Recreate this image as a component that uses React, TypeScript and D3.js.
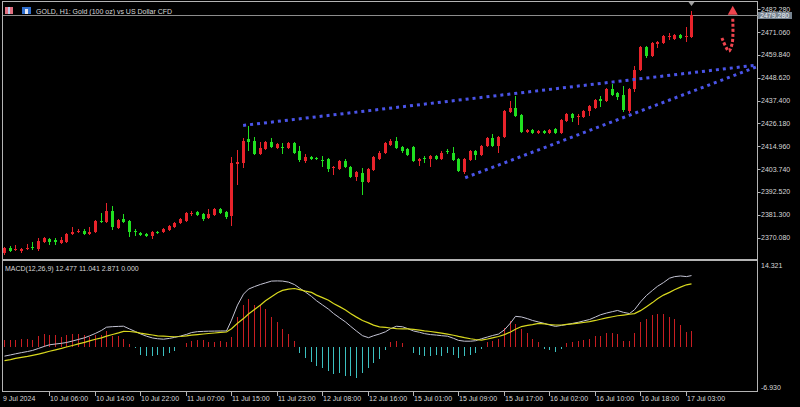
import * as d3 from "d3";

// H1 candles, 9 Jul 21:00 .. 17 Jul 04:00
const opens = [
  2362.4, 2365.1, 2364.0, 2363.5, 2364.7, 2365.3, 2364.5, 2367.9, 2369.5, 2368.9,
  2367.6, 2368.1, 2371.9, 2372.7, 2373.5, 2371.9, 2372.7, 2378.3, 2377.7, 2383.3,
  2375.0, 2379.1, 2378.3, 2373.2, 2372.5, 2372.0, 2370.9, 2373.0, 2372.8, 2373.9,
  2375.3, 2377.3, 2378.3, 2382.0, 2382.8, 2381.5, 2379.8, 2381.3, 2384.3, 2382.8,
  2380.8, 2406.3, 2406.5, 2418.3, 2417.8, 2411.4, 2413.4, 2416.9, 2413.9, 2414.6,
  2413.9, 2416.4, 2412.4, 2407.5, 2409.9, 2409.0, 2408.2, 2408.5, 2404.3, 2404.0,
  2407.5, 2405.0, 2400.1, 2402.0, 2397.6, 2403.5, 2408.9, 2411.9, 2415.4, 2417.8,
  2414.4, 2413.4, 2414.4, 2407.5, 2409.0, 2408.5, 2410.4, 2408.9, 2412.5, 2411.9,
  2408.5, 2402.5, 2408.0, 2412.4, 2410.9, 2414.9, 2418.8, 2414.9, 2419.3, 2431.7,
  2433.6, 2430.2, 2421.8, 2422.8, 2421.3, 2422.3, 2421.3, 2423.3, 2421.3, 2427.2,
  2430.7, 2429.5, 2429.2, 2432.2, 2433.6, 2438.1, 2437.1, 2443.0, 2441.0, 2440.1,
  2432.2, 2443.0, 2452.4, 2463.8, 2459.3, 2465.3, 2465.8, 2469.0, 2467.7, 2469.7,
  2469.0, 2468.7,
];
const highs = [
  2365.5, 2365.8, 2366.3, 2365.2, 2367.0, 2368.0, 2369.7, 2370.2, 2370.0, 2369.8,
  2370.5, 2372.4, 2375.5, 2374.5, 2374.5, 2375.5, 2378.9, 2382.4, 2387.0, 2385.4,
  2379.3, 2381.8, 2378.8, 2374.5, 2373.0, 2372.5, 2373.3, 2373.5, 2374.7, 2376.3,
  2377.8, 2379.8, 2382.8, 2383.3, 2383.3, 2382.3, 2384.3, 2384.8, 2384.8, 2383.3,
  2409.9, 2412.9, 2418.8, 2424.8, 2419.5, 2416.9, 2417.4, 2418.8, 2416.4, 2416.4,
  2416.9, 2416.9, 2414.9, 2411.4, 2410.4, 2409.5, 2410.4, 2409.0, 2405.5, 2408.0,
  2408.5, 2405.5, 2403.0, 2404.5, 2404.5, 2410.4, 2412.4, 2416.9, 2418.3, 2419.3,
  2414.9, 2413.9, 2414.9, 2409.4, 2410.0, 2410.9, 2410.9, 2412.4, 2413.4, 2414.4,
  2409.0, 2409.0, 2412.9, 2412.9, 2415.4, 2419.3, 2420.8, 2419.8, 2432.7, 2437.1,
  2439.6, 2430.7, 2423.3, 2423.3, 2422.8, 2422.8, 2423.3, 2423.8, 2428.2, 2431.2,
  2431.2, 2430.7, 2432.7, 2435.1, 2438.1, 2439.6, 2443.5, 2445.5, 2441.5, 2444.5,
  2443.5, 2454.4, 2464.3, 2464.3, 2466.3, 2466.8, 2469.7, 2470.7, 2470.2, 2470.2,
  2473.7, 2481.6,
];
const lows = [
  2361.5, 2362.8, 2363.4, 2362.4, 2364.2, 2364.2, 2363.5, 2367.4, 2366.3, 2366.3,
  2367.0, 2367.6, 2371.4, 2372.2, 2371.4, 2371.4, 2372.2, 2377.2, 2377.2, 2373.9,
  2374.5, 2377.2, 2370.2, 2371.0, 2371.0, 2370.5, 2369.3, 2371.9, 2372.3, 2373.4,
  2374.8, 2376.8, 2377.8, 2380.8, 2380.8, 2378.3, 2379.3, 2380.8, 2381.8, 2379.3,
  2375.8, 2396.1, 2404.5, 2412.4, 2410.9, 2410.9, 2412.9, 2413.9, 2413.4, 2411.4,
  2413.4, 2411.4, 2407.0, 2406.5, 2408.0, 2408.3, 2405.0, 2402.2, 2401.0, 2403.5,
  2404.5, 2399.6, 2398.1, 2391.2, 2397.1, 2403.0, 2408.4, 2411.4, 2414.9, 2413.4,
  2411.9, 2410.4, 2407.0, 2405.5, 2406.5, 2405.0, 2408.4, 2408.4, 2411.4, 2407.5,
  2402.5, 2401.5, 2407.5, 2408.0, 2410.4, 2414.4, 2414.4, 2411.9, 2418.8, 2431.2,
  2429.2, 2421.3, 2421.3, 2420.8, 2420.8, 2420.8, 2420.8, 2420.8, 2420.8, 2426.7,
  2426.7, 2425.2, 2428.7, 2429.7, 2433.1, 2434.1, 2436.6, 2439.6, 2437.6, 2431.7,
  2431.2, 2441.5, 2451.9, 2458.3, 2458.8, 2463.3, 2465.3, 2467.2, 2467.2, 2467.7,
  2466.3, 2468.2,
];
const closes = [
  2364.8, 2363.5, 2364.5, 2364.6, 2365.2, 2364.8, 2368.6, 2369.7, 2367.8, 2367.8,
  2368.9, 2371.9, 2373.0, 2373.5, 2371.9, 2373.0, 2378.4, 2377.7, 2383.3, 2375.2,
  2378.8, 2377.7, 2373.0, 2372.9, 2371.5, 2371.0, 2372.8, 2372.4, 2374.2, 2375.8,
  2377.3, 2379.3, 2382.3, 2382.4, 2381.3, 2379.3, 2381.8, 2384.3, 2382.3, 2380.3,
  2406.5, 2407.2, 2417.8, 2417.3, 2411.4, 2413.9, 2416.9, 2414.4, 2415.9, 2414.3,
  2416.4, 2411.9, 2408.0, 2409.9, 2408.5, 2408.8, 2407.8, 2404.0, 2404.7, 2407.5,
  2405.0, 2400.1, 2402.5, 2397.6, 2404.0, 2409.9, 2411.9, 2416.4, 2417.8, 2413.9,
  2412.4, 2410.9, 2407.5, 2408.9, 2408.7, 2410.4, 2408.9, 2411.9, 2412.2, 2408.0,
  2403.0, 2408.5, 2412.4, 2410.9, 2414.9, 2418.8, 2414.9, 2419.3, 2432.2, 2433.6,
  2429.7, 2421.8, 2422.8, 2421.3, 2422.3, 2421.3, 2422.8, 2421.3, 2427.7, 2430.7,
  2428.7, 2429.9, 2432.2, 2434.6, 2437.6, 2437.1, 2443.0, 2440.1, 2439.1, 2432.7,
  2443.0, 2452.4, 2463.8, 2459.3, 2465.8, 2466.3, 2469.2, 2469.4, 2469.7, 2468.2,
  2469.4, 2479.3,
];

// MACD(12,26,9): main, signal, histogram
const macdMain = [
  -1.55, -1.34, -1.15, -0.94, -0.75, -0.56, -0.21, 0.16, 0.42, 0.56,
  0.68, 0.82, 1.08, 1.36, 1.64, 1.97, 2.41, 2.93, 3.49, 3.58,
  3.63, 3.66, 3.18, 2.72, 2.32, 1.92, 1.61, 1.48, 1.40, 1.54,
  1.71, 1.95, 2.23, 2.55, 2.71, 2.76, 2.79, 2.81, 2.83, 2.83,
  4.71, 7.33, 9.25, 10.12, 10.56, 10.94, 11.20, 11.52, 11.55, 11.52,
  11.34, 10.91, 10.30, 9.60, 8.85, 8.10, 7.36, 6.63, 5.88, 5.13,
  4.40, 3.66, 2.81, 2.01, 1.66, 1.99, 2.30, 2.69, 3.23, 3.65,
  3.56, 3.26, 2.83, 2.60, 2.37, 2.20, 2.11, 2.01, 1.92, 1.55,
  1.19, 1.05, 1.05, 1.13, 1.48, 1.78, 2.04, 2.29, 3.04, 4.21,
  5.38, 5.27, 4.97, 4.66, 4.40, 4.14, 3.87, 3.63, 3.80, 3.94,
  4.15, 4.35, 4.57, 4.82, 5.27, 5.65, 5.95, 6.20, 6.40, 6.07,
  5.86, 6.53, 7.89, 9.02, 9.90, 10.61, 11.26, 12.02, 12.29, 12.41,
  12.30, 12.477,
];
const macdSignal = [
  -2.32, -2.15, -1.95, -1.78, -1.61, -1.43, -1.19, -0.94, -0.70, -0.45,
  -0.21, 0.03, 0.30, 0.58, 0.84, 1.10, 1.38, 1.64, 1.94, 2.22,
  2.50, 2.77, 2.74, 2.64, 2.46, 2.29, 2.13, 1.97, 1.92, 1.87,
  1.82, 1.87, 1.97, 2.09, 2.20, 2.30, 2.39, 2.48, 2.57, 2.65,
  3.23, 4.17, 4.99, 5.79, 6.58, 7.36, 8.10, 8.81, 9.49, 9.90,
  10.12, 10.23, 10.02, 9.77, 9.55, 9.08, 8.64, 8.17, 7.61, 7.07,
  6.49, 5.88, 5.24, 4.64, 4.24, 3.84, 3.53, 3.46, 3.35, 3.25,
  3.21, 3.18, 3.11, 2.98, 2.86, 2.74, 2.58, 2.44, 2.29, 2.09,
  1.88, 1.66, 1.47, 1.34, 1.22, 1.43, 1.64, 1.87, 2.20, 2.65,
  3.12, 3.60, 3.79, 3.93, 4.14, 4.05, 3.96, 3.87, 3.87, 3.98,
  4.08, 4.21, 4.31, 4.45, 4.66, 4.87, 5.10, 5.31, 5.48, 5.60,
  5.74, 5.86, 6.37, 7.07, 7.77, 8.45, 9.08, 9.55, 10.02, 10.47,
  10.87, 11.041,
];
const macdHist = [
  1.20, 1.27, 1.27, 1.45, 1.45, 1.27, 2.04, 2.32, 2.15, 2.15,
  1.75, 2.15, 2.32, 2.32, 2.15, 1.75, 2.15, 2.15, 2.91, 2.04,
  1.87, 1.45, 0.58, -0.17, -1.27, -1.45, -1.45, -1.34, -1.45, -1.05,
  -0.58, 0.09, 0.70, 1.05, 1.27, 1.27, 0.87, 0.87, 1.05, 0.87,
  1.75, 5.24, 7.28, 8.43, 7.28, 7.33, 6.58, 5.29, 4.36, 3.19,
  2.32, 1.05, -0.99, -1.87, -2.62, -3.32, -3.61, -4.19, -4.59, -4.49,
  -4.94, -4.94, -5.36, -4.49, -3.61, -2.74, -2.04, -0.40, 0.87, 1.05,
  0.75, 0.09, -0.99, -1.27, -1.45, -1.45, -1.27, -1.45, -0.99, -1.27,
  -1.87, -1.57, -1.27, -0.99, -0.30, 0.87, 1.05, 1.45, 3.37, 4.54,
  3.96, 3.19, 2.39, 1.45, 0.87, -0.30, -0.40, -0.87, -0.30, 0.75,
  0.87, 1.05, 1.22, 1.45, 1.92, 2.04, 2.50, 2.39, 2.22, 1.05,
  1.05, 2.39, 4.36, 4.94, 5.53, 5.71, 5.71, 5.29, 4.83, 3.79,
  2.62, 2.871,
];

// time axis: bar index and label
const timeTickBars = [0, 8, 16, 24, 32, 40, 48, 56, 64, 72, 80, 88, 96, 104, 112, 120];
const timeLabels = [
  "9 Jul 2024", "10 Jul 06:00", "10 Jul 14:00", "10 Jul 22:00", "11 Jul 07:00",
  "11 Jul 15:00", "11 Jul 23:00", "12 Jul 08:00", "12 Jul 16:00", "15 Jul 01:00",
  "15 Jul 09:00", "15 Jul 17:00", "16 Jul 02:00", "16 Jul 10:00", "16 Jul 18:00",
  "17 Jul 03:00",
];
const priceTicks = [
  2482.28, 2471.06, 2459.84, 2448.62, 2437.4, 2426.18, 2414.96, 2403.74, 2392.52,
  2381.3, 2370.08,
];
const bidPrice = 2479.28;
const macdMax = 14.321;
const macdMin = -6.93;

// drawn objects: [bar, price]
const wedgeUpper: [number, number][] = [[42.1, 2425.2], [132.6, 2454.9]];
const wedgeLower: [number, number][] = [[81.2, 2399.5], [132.6, 2454.1]];
const arrowPath: [number, number][] = [[126.4, 2468.2], [127.6, 2461.8], [128.2, 2465.5], [128.3, 2478.0]];
const arrowTip: [number, number] = [128.3, 2482.0];

const W = 800;
const H = 407;
const AXIS_X = 757.5;
const UP = "#e8232b";
const DOWN = "#20e020";
const FRAME = "#b4b4b4";
const TEXT = "#d8d8d8";
const FONT = "'Liberation Sans', Arial, sans-serif";

export default function App() {
  const n = closes.length;
  const x = d3.scaleLinear().domain([0, n - 1]).range([4, 4 + (n - 1) * 5.68]);
  const yP = d3.scaleLinear().domain([2370.08, 2482.28]).range([237.6, 9.3]);
  const yM = d3.scaleLinear().domain([macdMin, macdMax]).range([387, 265]);
  const px = (i: number) => Math.round(x(i));

  const trend = d3
    .line<[number, number]>()
    .x((d) => x(d[0]))
    .y((d) => yP(d[1]));
  const arrowLine = d3
    .line<[number, number]>()
    .x((d) => x(d[0]))
    .y((d) => yP(d[1]))
    .curve(d3.curveCatmullRom);
  const macdLine = d3
    .line<number>()
    .x((_, i) => px(i) + 0.5)
    .y((d) => yM(d));

  const tipX = x(arrowTip[0]);
  const tipY = yP(arrowTip[1]);
  const lastX = px(n - 1) + 0.5;

  return (
    <div style={{ position: "fixed", left: 0, top: 0, width: W, height: H, background: "#000" }}>
      <svg width={W} height={H} style={{ display: "block" }} fontFamily={FONT}>
        <rect width={W} height={H} fill="#000" />

        {/* frames */}
        <g stroke={FRAME} fill="none" shapeRendering="crispEdges">
          <line x1={2.5} y1={1.5} x2={AXIS_X} y2={1.5} />
          <line x1={2.5} y1={1} x2={2.5} y2={392} />
          <line x1={AXIS_X} y1={1} x2={AXIS_X} y2={392} />
          <line x1={2} y1={260} x2={AXIS_X} y2={260} strokeWidth={2} />
          <line x1={2} y1={391.5} x2={AXIS_X} y2={391.5} />
        </g>

        {/* header */}
        <g shapeRendering="crispEdges">
          <rect x={5} y={7} width={8} height={7} fill="#b8c8e8" />
          <rect x={5} y={7} width={3} height={7} fill="#e07080" />
          <rect x={10} y={7} width={3} height={7} fill="#e07080" />
          <rect x={22} y={7} width={9} height={7} fill="#2f6fd0" />
          <rect x={25} y={9} width={3} height={5} fill="#e8e8f0" />
        </g>
        <text x={36} y={13.5} fontSize={7} fill={TEXT}>
          GOLD, H1:  Gold (100 oz) vs US Dollar CFD
        </text>

        {/* bid line */}
        <line x1={3} x2={AXIS_X} y1={Math.round(yP(bidPrice)) + 0.5} y2={Math.round(yP(bidPrice)) + 0.5} stroke="#8c8c8c" shapeRendering="crispEdges" />

        {/* candles */}
        <g shapeRendering="crispEdges">
          {closes.map((c, i) => {
            const o = opens[i];
            const col = c >= o ? UP : DOWN;
            const top = Math.round(yP(Math.max(o, c)));
            const bot = Math.round(yP(Math.min(o, c)));
            const cx = px(i);
            return (
              <g key={i}>
                <line x1={cx + 0.5} x2={cx + 0.5} y1={yP(highs[i])} y2={yP(lows[i])} stroke={col} />
                <rect x={cx - 1} y={top} width={3} height={Math.max(1, bot - top)} fill={col} />
              </g>
            );
          })}
        </g>

        {/* marker above the last bar */}
        <path d={`M${lastX - 3},2 L${lastX + 3},2 L${lastX},6 Z`} fill="#a0a0a0" />

        {/* wedge */}
        <g fill="none" stroke="#4a54e8" strokeWidth={3} strokeDasharray="3 4">
          <path d={trend(wedgeUpper) ?? ""} />
          <path d={trend(wedgeLower) ?? ""} />
        </g>

        {/* arrow */}
        <path d={arrowLine(arrowPath) ?? ""} fill="none" stroke="#f0444e" strokeWidth={3} strokeDasharray="3 2" />
        <path d={`M${tipX},${tipY - 4} L${tipX + 5},${tipY + 5} L${tipX - 5},${tipY + 5} Z`} fill="#f0444e" />

        {/* price axis */}
        <g fontSize={7} fill={TEXT}>
          {priceTicks.map((p) => (
            <g key={p}>
              <line x1={AXIS_X} x2={AXIS_X + 3} y1={Math.round(yP(p)) + 0.5} y2={Math.round(yP(p)) + 0.5} stroke={FRAME} />
              <text x={761} y={yP(p) + 2.5}>{p.toFixed(3)}</text>
            </g>
          ))}
        </g>
        <rect x={758} y={Math.round(yP(bidPrice)) - 3} width={34} height={7} fill="#76838f" />
        <text x={760} y={yP(bidPrice) + 2.5} fontSize={7} fill="#eef0f4">
          {bidPrice.toFixed(3)}
        </text>

        {/* MACD */}
        <text x={5} y={270.5} fontSize={7} fill={TEXT}>
          {`MACD(12,26,9) ${macdMain[n - 1].toFixed(3)} ${macdSignal[n - 1].toFixed(3)} ${macdHist[n - 1].toFixed(3)} 0.000`}
        </text>
        <g shapeRendering="crispEdges">
          {macdHist.map((v, i) => (
            <line
              key={i}
              x1={px(i) + 0.5}
              x2={px(i) + 0.5}
              y1={yM(0)}
              y2={yM(v)}
              stroke={v >= 0 ? "#c81e22" : "#3cc0c0"}
            />
          ))}
        </g>
        <path d={macdLine(macdMain) ?? ""} fill="none" stroke="#c4c4d4" strokeWidth={1} />
        <path d={macdLine(macdSignal) ?? ""} fill="none" stroke="#d8d81e" strokeWidth={1.2} />
        <g fontSize={7} fill={TEXT}>
          <text x={761} y={yM(macdMax) + 2.5}>{macdMax.toFixed(3)}</text>
          <text x={761} y={yM(macdMin) + 2.5}>{macdMin.toFixed(3)}</text>
        </g>

        {/* time axis */}
        <g fontSize={7} fill={TEXT}>
          {timeTickBars.map((b, k) => (
            <g key={b}>
              {k > 0 && (
                <line x1={px(b) + 0.5} x2={px(b) + 0.5} y1={392} y2={396} stroke={FRAME} shapeRendering="crispEdges" />
              )}
              <text x={k === 0 ? 3 : px(b) + 1} y={400.5}>
                {timeLabels[k]}
              </text>
            </g>
          ))}
        </g>
      </svg>
    </div>
  );
}
